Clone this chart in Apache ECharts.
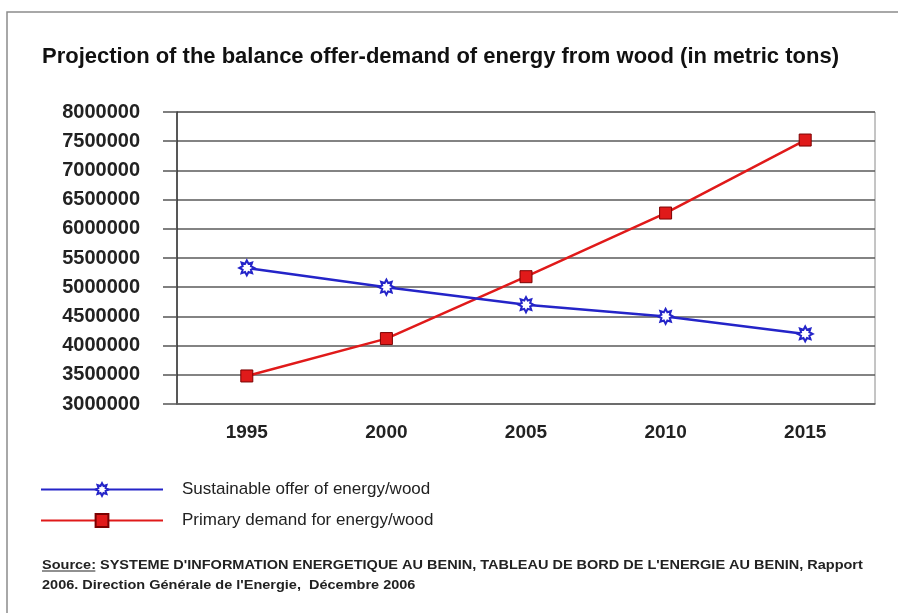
<!DOCTYPE html>
<html>
<head>
<meta charset="utf-8">
<script src="https://cdn.jsdelivr.net/npm/echarts@6/dist/echarts.min.js"></script>
<style>
  html, body { margin: 0; padding: 0; background: #fff; }
  #chart { width: 898px; height: 613px; }
</style>
</head>
<body>
<div id="chart"></div>
<script>
// Projection of wood-energy supply vs. demand in Benin (metric tons)
const years = ['1995', '2000', '2005', '2010', '2015'];
const sustainableOffer = [5330000, 5000000, 4700000, 4500000, 4200000];
const primaryDemand = [3480000, 4120000, 5180000, 6270000, 7520000];
const yTicks = { min: 3000000, max: 8000000, step: 500000 };

const titleText = 'Projection of the balance offer-demand of energy from wood (in metric tons)';
const offerName = 'Sustainable offer of energy/wood';
const demandName = 'Primary demand for energy/wood';
const sourceLine1 = "SYSTEME D'INFORMATION ENERGETIQUE AU BENIN, TABLEAU DE BORD DE L'ENERGIE AU BENIN, Rapport";
const sourceLine2 = "2006. Direction Générale de l'Energie,  Décembre 2006";

const FONT = 'Liberation Sans, Arial, sans-serif';
const BLUE = '#2424c8';
const RED = '#e01a1a';

// eight-pointed outline star used as the offer marker
const starPath = 'path://M20 10 L15.54 12.3 L17.07 17.07 L12.3 15.54 L10 20 L7.7 15.54 L2.93 17.07 L4.46 12.3 L0 10 L4.46 7.7 L2.93 2.93 L7.7 4.46 L10 0 L12.3 4.46 L17.07 2.93 L15.54 7.7 Z';

const chart = echarts.init(document.getElementById('chart'), null, { renderer: 'canvas' });

chart.setOption({
  animation: false,
  backgroundColor: '#fff',
  title: {
    text: titleText,
    left: 37,
    top: 41,
    textStyle: { fontFamily: FONT, fontSize: 22, fontWeight: 'bold', color: '#111' }
  },
  grid: {
    left: 177, top: 112, right: 23, bottom: 209,
    show: true, borderColor: '#8a8a8a', borderWidth: 1, backgroundColor: 'transparent'
  },
  legend: {
    orient: 'vertical',
    left: 35,
    top: 476,
    itemWidth: 122,
    itemHeight: 16,
    itemGap: 14,
    textStyle: { fontFamily: FONT, fontSize: 17, color: '#222', padding: [0, 0, 0, 14] },
    data: [offerName, demandName]
  },
  xAxis: {
    type: 'category',
    data: years,
    boundaryGap: true,
    axisLine: { show: true, lineStyle: { color: '#6a6a6a', width: 1.5 } },
    axisTick: { show: false },
    axisLabel: { fontFamily: FONT, fontSize: 19, fontWeight: 'bold', color: '#222', margin: 19 },
    splitLine: { show: false }
  },
  yAxis: {
    type: 'value',
    min: yTicks.min,
    max: yTicks.max,
    interval: yTicks.step,
    axisLine: { show: true, lineStyle: { color: '#333', width: 1.5 } },
    axisTick: { show: true, length: 14, lineStyle: { color: '#555', width: 1.5 } },
    axisLabel: {
      fontFamily: FONT, fontSize: 20, fontWeight: 'bold', color: '#222', margin: 37,
      formatter: v => String(v)
    },
    splitLine: { show: true, lineStyle: { color: '#5a5a5a', width: 1.5 } }
  },
  series: [
    {
      name: offerName,
      type: 'line',
      data: sustainableOffer,
      symbol: starPath,
      symbolSize: 15,
      lineStyle: { color: BLUE, width: 2.5 },
      itemStyle: { color: '#ffffff', borderColor: BLUE, borderWidth: 2 },
      z: 3
    },
    {
      name: demandName,
      type: 'line',
      data: primaryDemand,
      symbol: 'rect',
      symbolSize: 12,
      lineStyle: { color: RED, width: 2.5 },
      itemStyle: { color: RED, borderColor: '#7a0000', borderWidth: 1 },
      z: 2
    }
  ],
  graphic: [
    {
      type: 'rect',
      silent: true,
      z: -10,
      shape: { x: 7, y: 12, width: 1000, height: 700 },
      style: { fill: 'none', stroke: '#8c8c8c', lineWidth: 1.5 }
    },
    {
      // source note, slightly widened lettering
      type: 'group',
      x: 42,
      y: 556,
      scaleX: 1.16,
      children: [
        {
          type: 'text',
          x: 0,
          y: 0,
          style: {
            text: '{u|Source}{b|: ' + sourceLine1 + '}\n{b|' + sourceLine2 + '}',
            rich: {
              u: { fontFamily: FONT, fontSize: 12.5, fontWeight: 'bold', fill: '#222', lineHeight: 20 },
              b: { fontFamily: FONT, fontSize: 12.5, fontWeight: 'bold', fill: '#222', lineHeight: 20 }
            }
          }
        },
        {
          type: 'line',
          silent: true,
          shape: { x1: 0, y1: 15, x2: 46, y2: 15 },
          style: { stroke: '#222', lineWidth: 1 }
        }
      ]
    }
  ]
});
</script>
</body>
</html>
